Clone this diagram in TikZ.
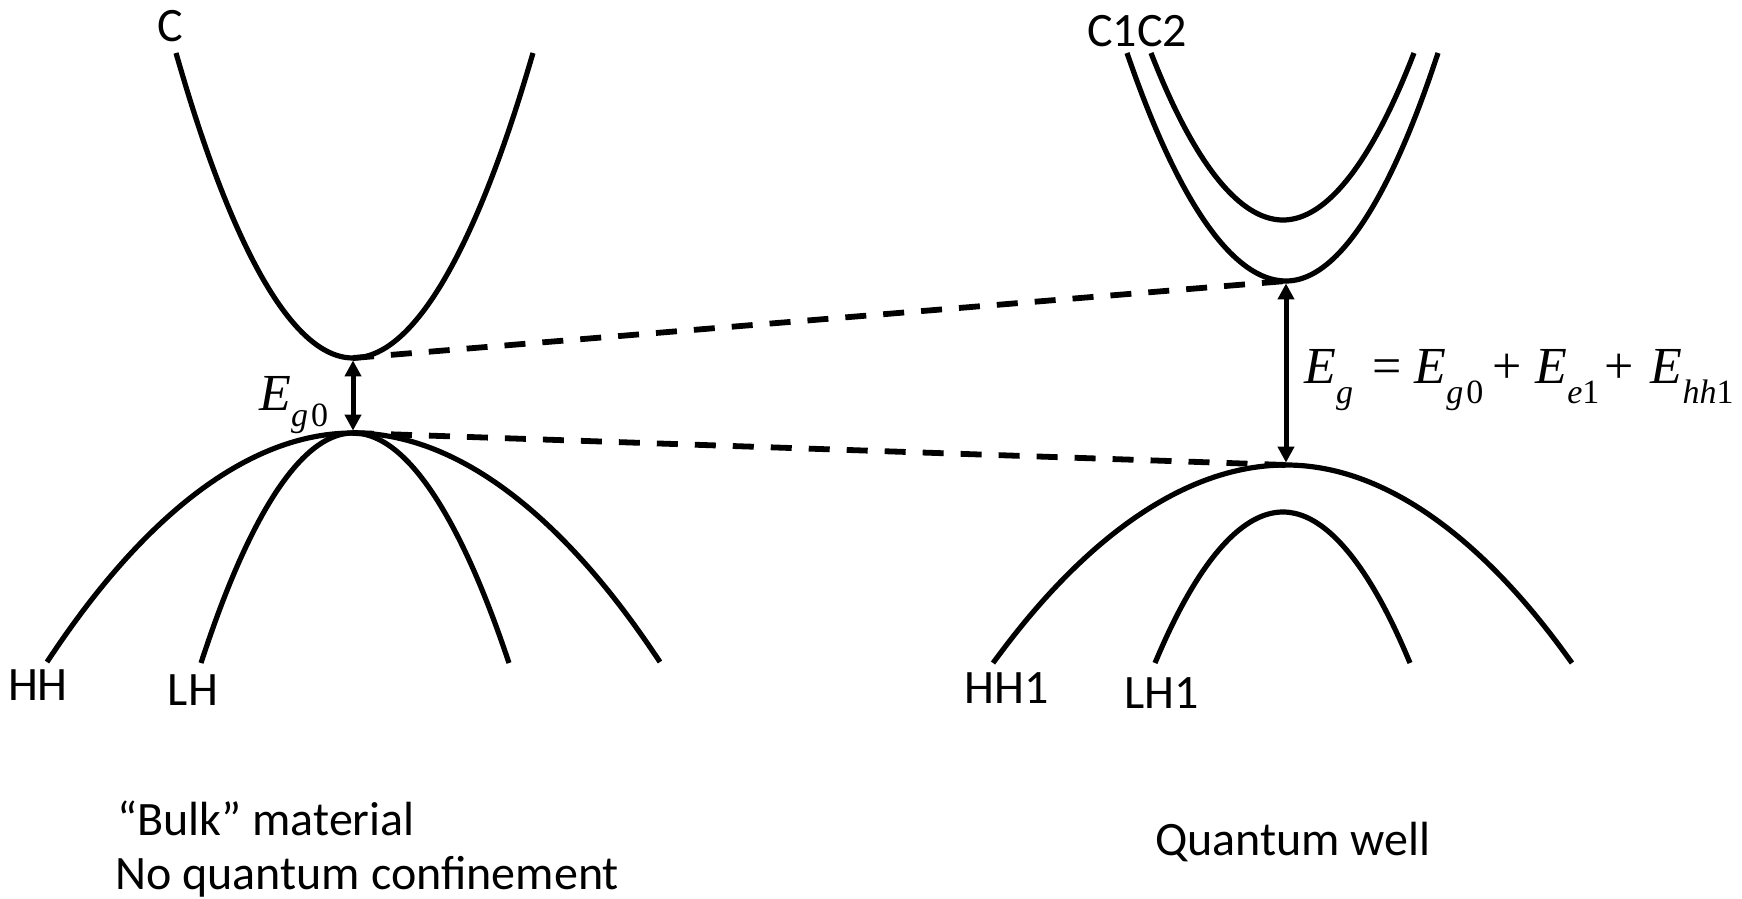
\documentclass[tikz,border=0pt]{standalone}
\usepackage{fontspec}
\setmainfont{Carlito}
\newfontfamily\tnr{Liberation Serif}
\usetikzlibrary{arrows.meta}
\newcommand\subf{\tnr\fontsize{17}{17}\selectfont}
\begin{document}
\begin{tikzpicture}[x=0.5pt,y=-0.5pt,
  band/.style={line width=2.6pt},
  gapline/.style={line width=2.9pt, dash pattern=on 10.5pt off 8.5pt},
  gaparrow/.style={line width=2.5pt, {Triangle[length=8pt,width=8pt]}-{Triangle[length=8pt,width=8pt]}},
  lbl/.style={font=\fontsize{24}{27}\selectfont, inner sep=0pt, anchor=base},
  eq/.style={font=\tnr\fontsize{26}{28}\selectfont, inner sep=0pt, anchor=base west}]
\useasboundingbox (0,0) rectangle (1742,899);

% key points
\coordinate (Cmin) at (353,358);
\coordinate (Vmax) at (353,433);
\coordinate (C1min) at (1286,281);
\coordinate (C2min) at (1283,220);
\coordinate (HH1max) at (1286,465);
\coordinate (LH1max) at (1283,512);

% bulk bands
\draw[band] (176,53) parabola bend (Cmin) (533,53);
\draw[band] (47,662) parabola bend (Vmax) (660,662);
\draw[band] (201,663) parabola bend (Vmax) (509,663);

% quantum well bands
\draw[band] (1127,53) parabola bend (C1min) (1438,53);
\draw[band] (1151,53) parabola bend (C2min) (1414,53);
\draw[band] (993,663) parabola bend (HH1max) (1572,663);
\draw[band] (1155,663) parabola bend (LH1max) (1410,663);

% dashed connectors
\draw[gapline] (Cmin) -- (C1min);
\draw[gapline] (Vmax) -- (HH1max);

% gap arrows
\draw[gaparrow, shorten <=1.2pt, shorten >=1.2pt] (Cmin) -- (Vmax);
\draw[gaparrow, shorten <=1.2pt, shorten >=1.2pt] (C1min) -- (HH1max);

% equations
\node[eq] (eg0) at (259,410) {\textit{E}\raisebox{-8pt}{\subf\textit{g}\hspace{1.5pt}0}};
\node[eq] (eqg) at (1304,383) {\textit{E}\raisebox{-10pt}{\subf\textit{g}}\hspace{9.5pt}=\hspace{6.5pt}\textit{E}\raisebox{-10pt}{\subf\textit{g}\hspace{1.5pt}0}\hspace{4.5pt}+\hspace{7pt}\textit{E}\raisebox{-10pt}{\subf\textit{e}1}\hspace{2.5pt}+\hspace{8.5pt}\textit{E}\raisebox{-10pt}{\subf\textit{hh}1}};

% labels
\node[lbl] (lC) at (170,42) {C};
\node[lbl] (lC12) at (1137,47) {C1C2};
\node[lbl] (lHH) at (38,700) {HH};
\node[lbl] (lLH) at (193,705) {LH};
\node[lbl] (lHH1) at (1007,703) {HH1};
\node[lbl] (lLH1) at (1162,708) {LH1};
\node[lbl] (lQW) at (1293,855) {Quantum well};
\node[lbl, anchor=base west] (lbulk) at (117,835) {“Bulk” material};
\node[lbl, anchor=base west] (lnoq) at (115,889) {No quantum confinement};
\end{tikzpicture}
\end{document}
